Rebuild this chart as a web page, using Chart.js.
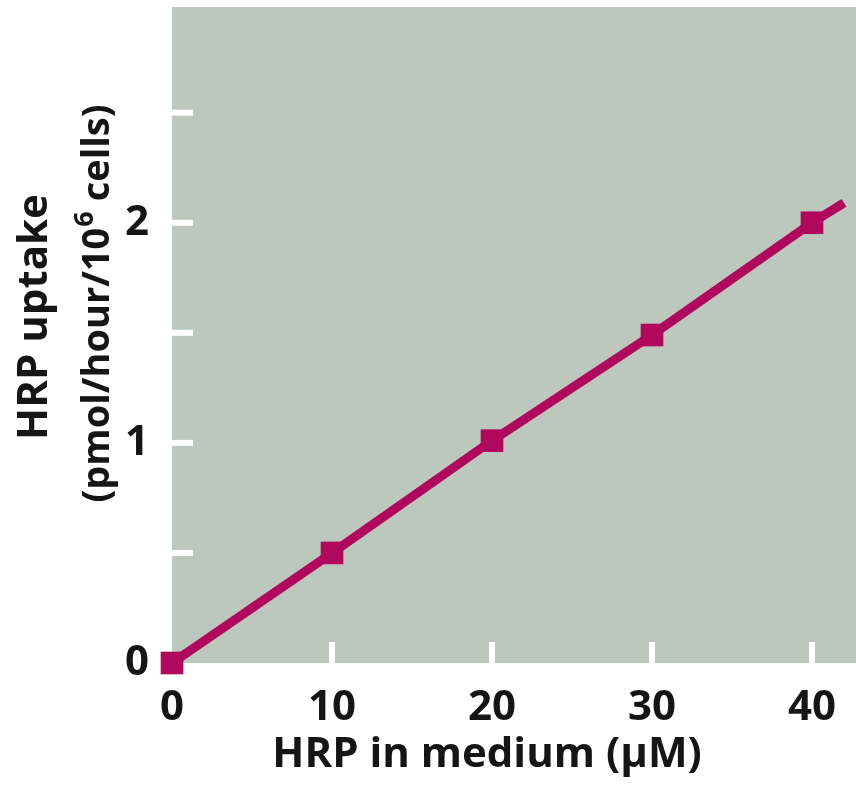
<!DOCTYPE html>
<html>
<head>
<meta charset="utf-8">
<script src="https://cdn.jsdelivr.net/npm/chart.js@4.4.1/dist/chart.umd.min.js"></script>
<style>
  html, body { margin: 0; padding: 0; background: #fff; }
</style>
</head>
<body>
<canvas id="chart" width="856" height="785"></canvas>
<script>
// data
const hrpMedium = [0, 10, 20, 30, 40, 42];          // µM
const hrpUptake = [0, 0.5, 1.01, 1.49, 2.0, 2.09];  // pmol/hour/10^6 cells
const markerShown = [true, true, true, true, true, false];
const xTickLabels = [0, 10, 20, 30, 40];
const yTickLabels = [0, 1, 2];

const xTitle = 'HRP in medium (μM)';
const yTitleTop = 'HRP uptake';
const yTitleBottom = ['(pmol/hour/10', '6', ' cells)'];

const FONT = '"Open Sans", "Liberation Sans", sans-serif';
const INK = '#151515';
const LINE = '#b0085c';

// keep the plot box fixed, no room for overflowing labels
function pinBox(s) {
  s.paddingTop = 0; s.paddingBottom = 0;
  s.paddingLeft = 0; s.paddingRight = 0;
}

const plotDecor = {
  id: 'plotDecor',
  beforeDraw(chart) {
    const { ctx, chartArea: a } = chart;
    ctx.save();
    ctx.fillStyle = '#bcc7be';
    ctx.fillRect(a.left, a.top, a.right - a.left, a.bottom - a.top);
    ctx.restore();
  },
  beforeDatasetsDraw(chart) {
    // white tick marks pointing into the plot
    const { ctx, chartArea: a, scales } = chart;
    ctx.save();
    ctx.strokeStyle = '#fff';
    ctx.lineWidth = 6;
    scales.y.ticks.forEach(t => {
      if (t.value <= 0 || t.value >= scales.y.max) return;
      const py = scales.y.getPixelForValue(t.value);
      ctx.beginPath();
      ctx.moveTo(a.left - 2, py);
      ctx.lineTo(a.left + 21, py);
      ctx.stroke();
    });
    scales.x.ticks.forEach(t => {
      if (t.value <= 0 || !xTickLabels.includes(t.value)) return;
      const px = scales.x.getPixelForValue(t.value);
      ctx.beginPath();
      ctx.moveTo(px, a.bottom + 1);
      ctx.lineTo(px, a.bottom - 21);
      ctx.stroke();
    });
    ctx.restore();
  },
  afterDraw(chart) {
    const { ctx } = chart;
    ctx.save();
    ctx.fillStyle = INK;
    ctx.font = 'bold 42px ' + FONT;
    ctx.textAlign = 'center';
    ctx.textBaseline = 'middle';
    ctx.fillText(xTitle, 487, 755);

    ctx.translate(35, 317);
    ctx.rotate(-Math.PI / 2);
    ctx.fillText(yTitleTop, 0, 0);
    ctx.restore();

    // second line with superscript
    ctx.save();
    ctx.fillStyle = INK;
    ctx.translate(98, 304);
    ctx.rotate(-Math.PI / 2);
    ctx.textAlign = 'left';
    ctx.textBaseline = 'middle';
    const big = 'bold 38px ' + FONT, small = 'bold 27px ' + FONT;
    ctx.font = big;
    const w1 = ctx.measureText(yTitleBottom[0]).width;
    const w3 = ctx.measureText(yTitleBottom[2]).width;
    ctx.font = small;
    const w2 = ctx.measureText(yTitleBottom[1]).width;
    let x0 = -(w1 + w2 + w3) / 2;
    ctx.font = big;
    ctx.fillText(yTitleBottom[0], x0, 0);
    ctx.font = small;
    ctx.fillText(yTitleBottom[1], x0 + w1 + 1, -13);
    ctx.font = big;
    ctx.fillText(yTitleBottom[2], x0 + w1 + w2 + 1, 0);
    ctx.restore();
  }
};

new Chart(document.getElementById('chart'), {
  type: 'scatter',
  data: {
    datasets: [{
      data: hrpMedium.map((x, i) => ({ x, y: hrpUptake[i] })),
      showLine: true,
      borderColor: LINE,
      borderWidth: 9,
      backgroundColor: LINE,
      pointStyle: 'rect',
      pointRadius: markerShown.map(s => (s ? 16 : 0)),
      pointBorderWidth: 0,
      pointBackgroundColor: LINE,
      clip: false
    }]
  },
  options: {
    responsive: false,
    animation: false,
    layout: { autoPadding: false, padding: { top: 7, right: 0, left: 0, bottom: 0 } },
    plugins: { legend: { display: false }, tooltip: { enabled: false } },
    scales: {
      x: {
        type: 'linear',
        min: 0,
        max: 42.75,
        grid: { display: false },
        border: { display: false },
        ticks: {
          stepSize: 10,
          padding: 12,
          autoSkip: false,
          includeBounds: false,
          maxRotation: 0,
          color: INK,
          font: { family: FONT, size: 42, weight: 'bold' },
          callback: v => (xTickLabels.includes(v) ? String(v) : '')
        },
        afterFit(s) { s.height = 122; pinBox(s); }
      },
      y: {
        min: 0,
        max: 2.98,
        grid: { display: false },
        border: { display: false },
        ticks: {
          stepSize: 0.5,
          padding: 15,
          autoSkip: false,
          includeBounds: false,
          color: INK,
          font: { family: FONT, size: 42, weight: 'bold' },
          callback: v => (yTickLabels.includes(v) ? String(v) : '')
        },
        afterFit(s) { s.width = 172; pinBox(s); }
      }
    }
  },
  plugins: [plotDecor]
});
</script>
</body>
</html>
